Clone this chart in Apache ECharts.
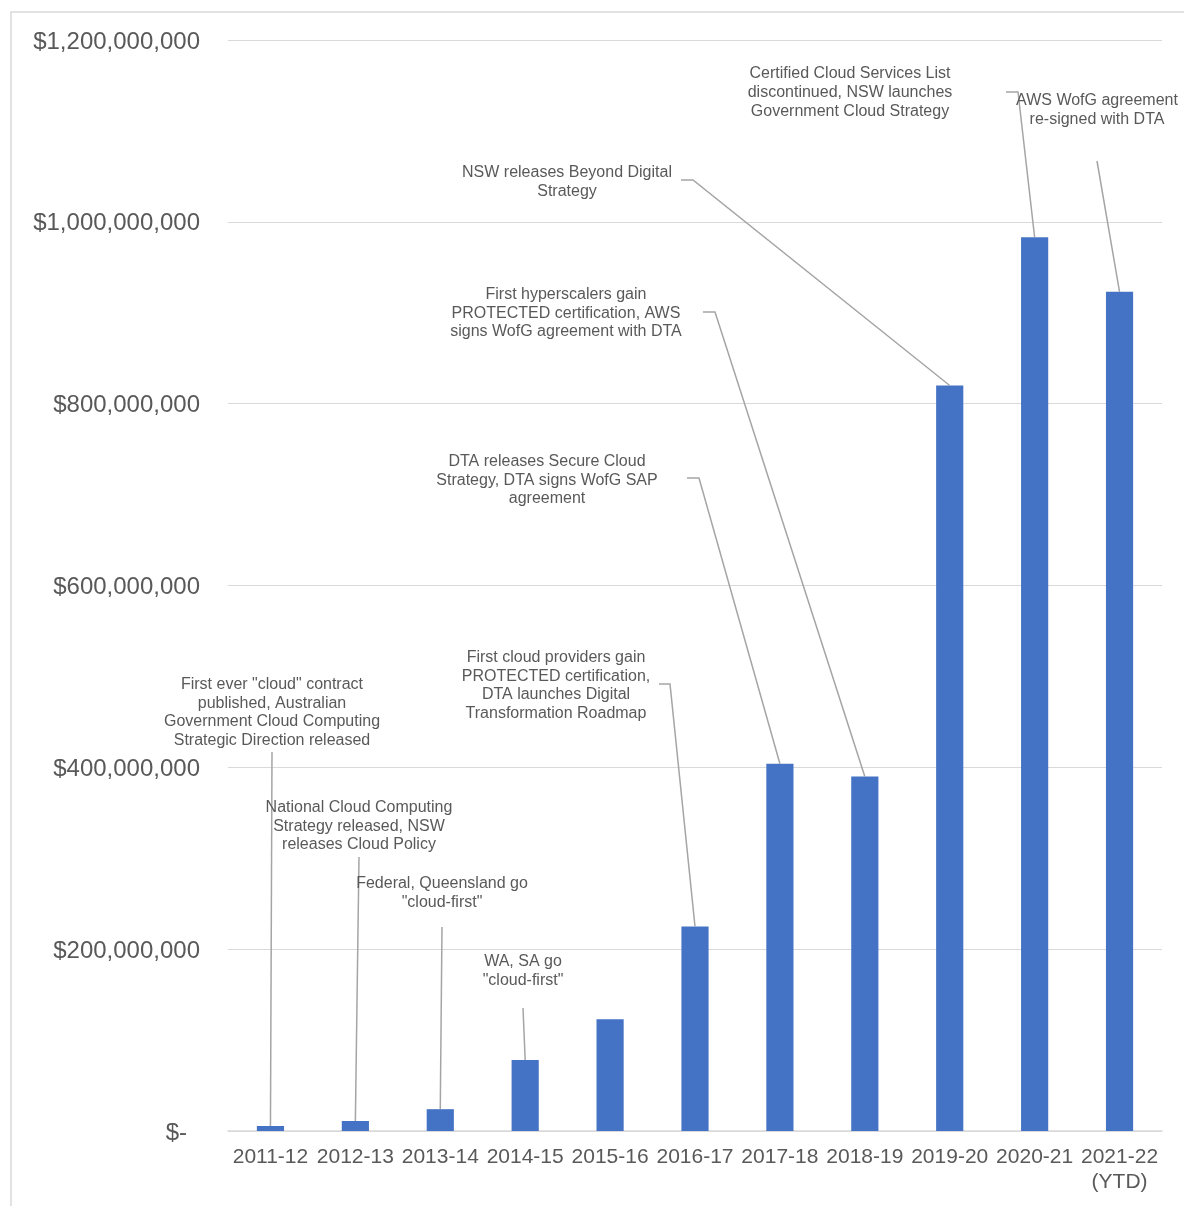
<!DOCTYPE html>
<html>
<head>
<meta charset="utf-8">
<script src="https://cdn.jsdelivr.net/npm/echarts@6/dist/echarts.min.js"></script>
<style>
html,body{margin:0;padding:0;background:#fff;}
#main{width:1184px;height:1206px;}
</style>
</head>
<body>
<div id="main"></div>
<script>
// ---- data ----
const categories = ['2011-12','2012-13','2013-14','2014-15','2015-16','2016-17','2017-18','2018-19','2019-20','2020-21','2021-22\n(YTD)'];
const spend = [5.5e6, 11e6, 24e6, 78e6, 123e6, 225e6, 404e6, 390e6, 820e6, 983e6, 923e6];
const yTickValues = [0, 2e8, 4e8, 6e8, 8e8, 10e8, 12e8];
const annotationTexts = [
  'First ever "cloud" contract\npublished, Australian\nGovernment Cloud Computing\nStrategic Direction released',
  'National Cloud Computing\nStrategy released, NSW\nreleases Cloud Policy',
  'Federal, Queensland go\n"cloud-first"',
  'WA, SA go\n"cloud-first"',
  'First cloud providers gain\nPROTECTED certification,\nDTA launches Digital\nTransformation Roadmap',
  'DTA releases Secure Cloud\nStrategy, DTA signs WofG SAP\nagreement',
  'First hyperscalers gain\nPROTECTED certification, AWS\nsigns WofG agreement with DTA',
  'NSW releases Beyond Digital\nStrategy',
  'Certified Cloud Services List\ndiscontinued, NSW launches\nGovernment Cloud Strategy',
  'AWS WofG agreement\nre-signed with DTA'
];
const annotationBars = [0, 1, 2, 3, 5, 6, 7, 8, 9, 10];

// ---- layout (pixel positions of annotation text and leader starts) ----
const annotationLayout = [
  {cx: 272, cy: 684.5, lead: [[272, 752]]},
  {cx: 359, cy: 807.5, lead: [[359, 857]]},
  {cx: 442, cy: 883.5, lead: [[442, 927]]},
  {cx: 523, cy: 961.5, lead: [[523, 1008]]},
  {cx: 556, cy: 657.5, lead: [[659, 684], [670, 684]]},
  {cx: 547, cy: 461.5, lead: [[687, 478], [699, 478]]},
  {cx: 566, cy: 294.5, lead: [[703, 312], [715, 312]]},
  {cx: 567, cy: 173, lead: [[681, 180], [693, 180]]},
  {cx: 850, cy: 74, lead: [[1006, 92], [1018, 92]]},
  {cx: 1097, cy: 101, lead: [[1097, 161]]}
];

const FONT = '"Liberation Sans", Arial, Helvetica, sans-serif';
const TXT = '#595959';
const LINE_H = 18.7;

const chart = echarts.init(document.getElementById('main'), null, {renderer: 'canvas'});

chart.setOption({
  animation: false,
  backgroundColor: '#ffffff',
  grid: {left: 228, right: 22, top: 40, bottom: 75, containLabel: false, outerBoundsMode: 'none'},
  xAxis: {
    type: 'category',
    data: categories,
    axisTick: {show: false},
    axisLine: {show: true, lineStyle: {color: '#d9d9d9', width: 1.5}},
    axisLabel: {color: TXT, fontSize: 21, fontFamily: FONT, margin: 14, lineHeight: 25, interval: 0}
  },
  yAxis: {
    type: 'value',
    min: yTickValues[0],
    max: yTickValues[yTickValues.length - 1],
    interval: yTickValues[1] - yTickValues[0],
    axisLine: {show: false},
    axisTick: {show: false},
    splitLine: {lineStyle: {color: '#d9d9d9', width: 1}},
    axisLabel: {
      color: TXT, fontSize: 24, fontFamily: FONT, margin: 28,
      padding: [4, 0, 0, 0],
      formatter: function (v) {
        if (v === 0) return '{z|$-}';
        return '$' + v.toLocaleString('en-US');
      },
      rich: {z: {color: TXT, fontSize: 24, fontFamily: FONT, padding: [0, 13, 0, 0]}}
    }
  },
  series: [{
    type: 'bar',
    data: spend,
    barWidth: '32%',
    itemStyle: {color: '#4472C4'}
  }]
});

// ---- annotations & leader lines ----
const graphics = [];
graphics.push({
  type: 'rect', silent: true, z: 0,
  shape: {x: 11, y: 12, width: 1200, height: 1200},
  style: {fill: 'none', stroke: '#d9d9d9', lineWidth: 1.5}
});
annotationTexts.forEach(function (t, i) {
  const lay = annotationLayout[i];
  const barIdx = annotationBars[i];
  const end = chart.convertToPixel({gridIndex: 0}, [barIdx, spend[barIdx]]);
  const pts = lay.lead.concat([end]);
  graphics.push({
    type: 'polyline', silent: true, z: 10,
    shape: {points: pts},
    style: {stroke: '#a5a5a5', lineWidth: 1.5, fill: null}
  });
  graphics.push({
    type: 'text', silent: true, z: 11,
    style: {
      text: t, x: lay.cx, y: lay.cy - LINE_H / 2,
      align: 'center', verticalAlign: 'top',
      textAlign: 'center', textVerticalAlign: 'top',
      font: '16px ' + FONT, lineHeight: LINE_H, fill: TXT
    }
  });
});
chart.setOption({graphic: graphics});
</script>
</body>
</html>
